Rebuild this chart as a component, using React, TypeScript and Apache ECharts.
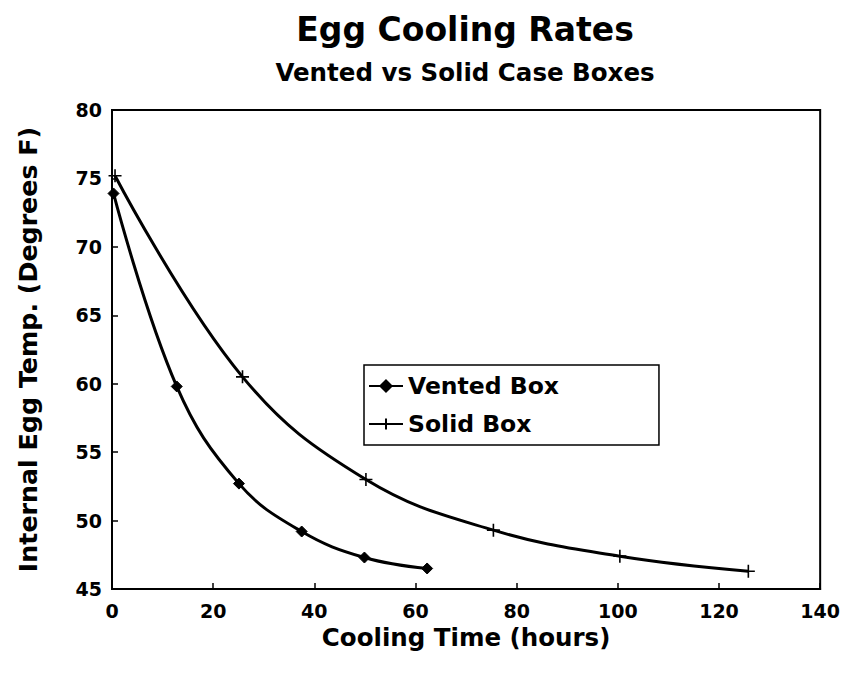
import React, { useEffect, useRef } from "react";
import * as echarts from "echarts";

const ventedTime = [0.3, 12.8, 25.1, 37.5, 49.9, 62.3];
const ventedTemp = [73.9, 59.8, 52.7, 49.2, 47.3, 46.5];
const solidTime = [0.6, 25.8, 50.2, 75.4, 100.4, 125.8];
const solidTemp = [75.2, 60.5, 53.0, 49.3, 47.4, 46.3];
const seriesNames = ["Vented Box", "Solid Box"];
const titleText = "Egg Cooling Rates";
const subtitleText = "Vented vs Solid Case Boxes";
const xName = "Cooling Time (hours)";
const yName = "Internal Egg Temp. (Degrees F)";

const FONT = "'DejaVu Sans', 'Liberation Sans', Arial, sans-serif";

export default function App() {
  const ref = useRef<HTMLDivElement>(null);
  useEffect(() => {
    if (!ref.current) return;
    const chart = echarts.init(ref.current, null, { renderer: "svg" });
    const pair = (xs: number[], ys: number[]) => xs.map((x, i) => [x, ys[i]]);
    chart.setOption({
      animation: false,
      backgroundColor: "#fff",
      textStyle: { fontFamily: FONT, color: "#000" },
      title: {
        text: titleText,
        subtext: subtitleText,
        left: 460,
        top: 8,
        textAlign: "center",
        itemGap: 14,
        textStyle: { fontFamily: FONT, fontSize: 33, fontWeight: "bold", color: "#000" },
        subtextStyle: { fontFamily: FONT, fontSize: 24.5, fontWeight: "bold", color: "#000" },
      },
      legend: {
        orient: "vertical",
        left: 364,
        top: 365,
        data: seriesNames,
        itemWidth: 34,
        itemHeight: 14,
        itemGap: 8,
        padding: [6, 100, 6, 4],
        borderColor: "#000",
        borderWidth: 1.5,
        borderRadius: 0,
        backgroundColor: "#fff",
        textStyle: { fontFamily: FONT, fontSize: 23.5, fontWeight: "bold", color: "#000", lineHeight: 30 },
      },
      grid: {
        left: 112,
        right: 21,
        top: 110,
        bottom: 84,
        show: true,
        borderColor: "#000",
        borderWidth: 2,
        backgroundColor: "#fff",
      },
      xAxis: {
        type: "value",
        min: 0,
        max: 140,
        interval: 20,
        name: xName,
        nameLocation: "middle",
        nameGap: 29,
        nameTextStyle: { fontFamily: FONT, fontSize: 24.5, fontWeight: "bold", color: "#000" },
        axisLine: { show: true, lineStyle: { color: "#000", width: 2 } },
        axisTick: { show: true, inside: true, length: 6, lineStyle: { color: "#000", width: 1.5 } },
        axisLabel: { margin: 12, fontFamily: FONT, fontSize: 19, fontWeight: "bold", color: "#000" },
        splitLine: { show: false },
      },
      yAxis: {
        type: "value",
        min: 45,
        max: 80,
        interval: 5,
        name: yName,
        nameLocation: "middle",
        nameGap: 71,
        nameRotate: 90,
        nameTextStyle: { fontFamily: FONT, fontSize: 25.3, fontWeight: "bold", color: "#000" },
        axisLine: { show: true, lineStyle: { color: "#000", width: 2 } },
        axisTick: { show: true, inside: true, length: 6, lineStyle: { color: "#000", width: 1.5 } },
        axisLabel: { margin: 10, fontFamily: FONT, fontSize: 19, fontWeight: "bold", color: "#000" },
        splitLine: { show: false },
      },
      series: [
        {
          name: seriesNames[0],
          type: "line",
          data: pair(ventedTime, ventedTemp),
          smooth: 0.4,
          symbol: "diamond",
          symbolSize: 11,
          lineStyle: { color: "#000", width: 3 },
          itemStyle: { color: "#000", borderColor: "#000", borderWidth: 1 },
        },
        {
          name: seriesNames[1],
          type: "line",
          data: pair(solidTime, solidTemp),
          smooth: 0.4,
          symbol: "path://M0,5L10,5M5,0L5,10",
          symbolSize: 13,
          lineStyle: { color: "#000", width: 3 },
          itemStyle: { color: "none", borderColor: "#000", borderWidth: 1.6 },
        },
      ],
    });
    return () => chart.dispose();
  }, []);
  return (
    <div
      ref={ref}
      style={{ position: "fixed", left: 0, top: 0, width: 843, height: 673, background: "#fff" }}
    />
  );
}
